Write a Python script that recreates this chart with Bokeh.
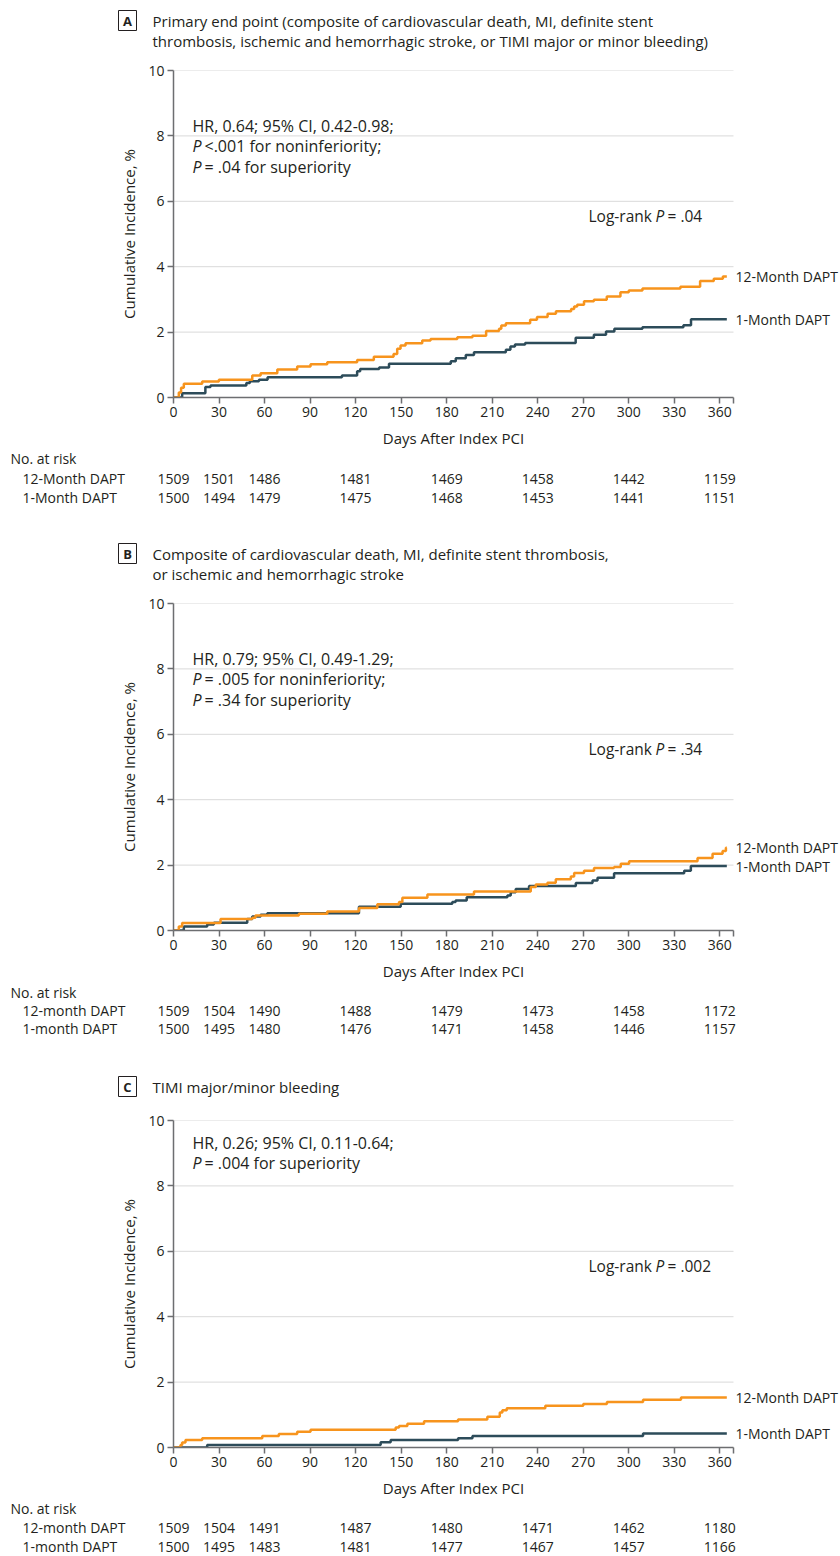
from bokeh.plotting import figure
from bokeh.models import Range1d, FixedTicker
from bokeh.layouts import column
from bokeh.embed import file_html
from bokeh.resources import INLINE
from bokeh.core.properties import value

# ---------------- data ----------------
RISK_DAYS = [0, 30, 60, 120, 180, 240, 300, 360]
X_TICKS = [0, 30, 60, 90, 120, 150, 180, 210, 240, 270, 300, 330, 360, 369]
Y_TICKS = [0, 2, 4, 6, 8, 10]

# Panel A
A12_days = [0, 3.5, 5, 6.8, 18.9, 29.9, 51.9, 57.4, 68.4, 81.5, 90.3, 101.3, 121, 132, 145, 147.4,
            149.6, 152.9, 163.9, 169.4, 187, 197, 206, 214.5, 216, 219, 235, 239.5, 246.5, 252,
            262, 264, 266, 270.5, 277, 285.5, 294.5, 300, 309, 334, 347, 356, 362, 364.6]
A12_vals = [0, 0.15, 0.30, 0.42, 0.49, 0.54, 0.67, 0.74, 0.86, 0.95, 1.02, 1.08, 1.15, 1.25, 1.33, 1.49,
            1.59, 1.66, 1.74, 1.79, 1.84, 1.89, 2.03, 2.10, 2.20, 2.27, 2.38, 2.46, 2.56, 2.64,
            2.71, 2.78, 2.84, 2.94, 2.99, 3.09, 3.22, 3.27, 3.33, 3.39, 3.56, 3.63, 3.70, 3.70]
A1_days = [0, 5.7, 21, 24.4, 48, 50.3, 56.3, 62, 111, 121, 123, 135.5, 142, 182.7, 186, 192.6, 198,
           219, 222, 225, 231.7, 265, 277, 285, 290.5, 309, 336, 341, 364.6]
A1_vals = [0, 0.13, 0.32, 0.37, 0.44, 0.50, 0.54, 0.62, 0.67, 0.80, 0.87, 0.92, 1.03, 1.11, 1.20, 1.30, 1.38,
           1.46, 1.56, 1.62, 1.67, 1.83, 1.92, 2.02, 2.10, 2.15, 2.21, 2.39, 2.39]
A12_risk = [1509, 1501, 1486, 1481, 1469, 1458, 1442, 1159]
A1_risk = [1500, 1494, 1479, 1475, 1468, 1453, 1441, 1151]

# Panel B
B12_days = [0, 3.5, 5.7, 31, 51.9, 54, 82.6, 101.3, 122.2, 134.3, 148.6, 150.8, 167.3, 198, 235.4,
            238.7, 246.4, 251.9, 261.8, 264, 270.5, 277.1, 290.3, 294.7, 300.2, 345.3, 355.2, 361.8, 364, 364.6]
B12_vals = [0, 0.12, 0.23, 0.35, 0.39, 0.46, 0.51, 0.58, 0.69, 0.80, 0.87, 1.00, 1.10, 1.19, 1.33,
            1.41, 1.46, 1.57, 1.65, 1.76, 1.83, 1.91, 1.94, 2.04, 2.12, 2.22, 2.35, 2.43, 2.53, 2.53]
B1_days = [0, 6.8, 22.2, 26.6, 48.6, 51.9, 57.4, 61.8, 122.2, 149.7, 183.7, 185.9, 193.2, 220, 222.2,
           225.5, 234.3, 265.1, 276.1, 279.4, 290.3, 336.5, 340.9, 364.6]
B1_vals = [0, 0.12, 0.18, 0.24, 0.35, 0.43, 0.48, 0.53, 0.73, 0.82, 0.87, 0.92, 1.02, 1.07, 1.17,
           1.27, 1.36, 1.45, 1.53, 1.61, 1.75, 1.83, 1.97, 1.97]
B12_risk = [1509, 1504, 1490, 1488, 1479, 1473, 1458, 1172]
B1_risk = [1500, 1495, 1480, 1476, 1471, 1458, 1446, 1157]

# Panel C
C12_days = [0, 4.6, 5.7, 7.9, 18.9, 58.5, 69.4, 81.5, 90.3, 146.4, 148.6, 154.1, 165.1, 187.5, 206.8,
            215, 216.7, 219.6, 245, 270, 285.6, 309.4, 334.4, 364.6]
C12_vals = [0, 0.08, 0.15, 0.23, 0.28, 0.35, 0.41, 0.48, 0.54, 0.61, 0.66, 0.73, 0.80, 0.86, 0.94,
            1.07, 1.14, 1.20, 1.28, 1.33, 1.39, 1.46, 1.53, 1.53]
C1_days = [0, 22.2, 136.5, 143.1, 187.5, 197, 309.4, 364.6]
C1_vals = [0, 0.08, 0.16, 0.23, 0.28, 0.35, 0.43, 0.43]
C12_risk = [1509, 1504, 1491, 1487, 1480, 1471, 1462, 1180]
C1_risk = [1500, 1495, 1483, 1481, 1477, 1467, 1457, 1166]

# ---------------- style ----------------
FONT = "Open Sans"
W = 840
FRAME_L = 173      # left edge of the data frame (px)
AXIS_W = 560       # px covered by the 0..XMAX axis
FRAME_H = 327
XMAX = 369
ORANGE = "#F7941D"
SLATE = "#2D4C5A"
TXT = "#231F20"
AXC = "#6D6E71"
GRID = "#D9D9D9"
X_LABEL = "Days After Index PCI"


def px2day(px):
    return (px - FRAME_L) / AXIS_W * XMAX


def base_fig(h, xr, yr):
    f = figure(width=W, height=h, x_range=xr, y_range=yr, toolbar_location=None,
               output_backend="svg", min_border=0, x_axis_location=None, y_axis_location=None,
               frame_align=False)
    f.outline_line_color = None
    for g in f.grid:
        g.visible = False
    return f


def header(h, letter, lines, y1):
    f = base_fig(h, Range1d(0, W), Range1d(h, 0))
    f.rect(x=[127], y=[y1], width=18, height=20, fill_color="white", line_color=TXT, line_width=1)
    f.text(x=[127], y=[y1], text=[letter], text_font=value(FONT), text_font_size="13px",
           text_font_style="bold", text_color=TXT, text_align="center", text_baseline="middle")
    ys = [y1 + 20 * i for i in range(len(lines))]
    f.text(x=[152] * len(lines), y=ys, text=lines, text_font=value(FONT), text_font_size="15px",
           text_color=TXT, text_align="left", text_baseline="middle")
    return f


def km(d12, v12, d1, v1, lab12, lab1, stats, pstats, logrank, stat_top):
    f = figure(width=W, height=367, x_range=Range1d(0, px2day(W)), y_range=Range1d(0, 10),
               toolbar_location=None, output_backend="svg", frame_align=False,
               min_border_left=FRAME_L, min_border_right=0, min_border_top=10, min_border_bottom=30)
    f.outline_line_color = None
    f.xgrid.visible = False
    f.ygrid.visible = False
    for ax in (f.xaxis[0], f.yaxis[0]):
        ax.axis_line_color = AXC
        ax.axis_line_width = 1.5
        ax.major_tick_line_color = AXC
        ax.major_tick_line_width = 1.5
        ax.major_tick_in = 0
        ax.major_tick_out = 6
        ax.minor_tick_line_color = None
        ax.major_label_text_font = FONT
        ax.major_label_text_font_size = "14px"
        ax.major_label_text_color = TXT
        ax.axis_label_text_font = FONT
        ax.axis_label_text_font_size = "15px"
        ax.axis_label_text_font_style = "normal"
        ax.axis_label_text_color = TXT
        ax.major_label_standoff = 3
    f.xaxis.ticker = FixedTicker(ticks=X_TICKS)
    f.xaxis.bounds = (0, XMAX)
    f.xaxis.major_label_overrides = {369: ""}
    f.yaxis.ticker = FixedTicker(ticks=Y_TICKS)
    f.yaxis.axis_label = "Cumulative Incidence, %"
    f.yaxis.axis_label_standoff = 6

    # horizontal grid lines, stopping at the end of the x axis
    gy = Y_TICKS[1:]
    f.segment(x0=[0] * len(gy), y0=gy, x1=[XMAX] * len(gy), y1=gy, line_color=GRID, line_width=1)

    f.step(d1, v1, mode="after", line_color=SLATE, line_width=2.5)
    f.step(d12, v12, mode="after", line_color=ORANGE, line_width=2.5)

    def ypx(p):
        return 10 - p * 10 / FRAME_H

    xs = px2day(FRAME_L + 19)
    yrow = [ypx(stat_top + 20.5 * i) for i in range(1 + len(pstats))]
    f.text(x=[xs], y=[yrow[0]], text=[stats], text_font=value(FONT), text_font_size="16px",
           text_color=TXT, text_baseline="middle")
    for i, t in enumerate(pstats):
        f.text(x=[xs], y=[yrow[i + 1]], text=["P"], text_font=value(FONT), text_font_size="16px",
               text_font_style="italic", text_color=TXT, text_baseline="middle")
        f.text(x=[xs], y=[yrow[i + 1]], x_offset=12, text=[t], text_font=value(FONT), text_font_size="16px",
               text_color=TXT, text_baseline="middle")
    xl = px2day(FRAME_L + 415)
    yl = ypx(145)
    f.text(x=[xl], y=[yl], text=["Log-rank"], text_font=value(FONT), text_font_size="15.5px",
           text_color=TXT, text_baseline="middle")
    f.text(x=[xl], y=[yl], x_offset=67, text=["P"], text_font=value(FONT), text_font_size="15.5px",
           text_font_style="italic", text_color=TXT, text_baseline="middle")
    f.text(x=[xl], y=[yl], x_offset=79, text=[logrank], text_font=value(FONT), text_font_size="15.5px",
           text_color=TXT, text_baseline="middle")

    f.text(x=[XMAX, XMAX], y=[v12[-1], v1[-1]], x_offset=2, text=[lab12, lab1], text_font=value(FONT),
           text_font_size="14px", text_color=TXT, text_baseline="middle", text_align="left")
    return f


def risk(h, lab12, lab1, n12, n1, rows):
    # rows: [x-axis label, "No. at risk", 12-month row, 1-month row] (px from top)
    f = base_fig(h, Range1d(px2day(0), px2day(W)), Range1d(h, 0))
    f.text(x=[XMAX / 2], y=[rows[0]], text=[X_LABEL], text_font=value(FONT), text_font_size="15px",
           text_color=TXT, text_baseline="middle", text_align="center")
    f.text(x=[px2day(10)], y=[rows[1]], text=["No. at risk"], text_font=value(FONT), text_font_size="14px",
           text_color=TXT, text_baseline="middle")
    f.text(x=[px2day(22)] * 2, y=rows[2:], text=[lab12, lab1], text_font=value(FONT),
           text_font_size="14px", text_color=TXT, text_baseline="middle")
    f.text(x=RISK_DAYS, y=[rows[2]] * len(RISK_DAYS), text=[str(n) for n in n12], text_font=value(FONT),
           text_font_size="14px", text_color=TXT, text_baseline="middle", text_align="center")
    f.text(x=RISK_DAYS, y=[rows[3]] * len(RISK_DAYS), text=[str(n) for n in n1], text_font=value(FONT),
           text_font_size="14px", text_color=TXT, text_baseline="middle", text_align="center")
    return f


hA = header(60, "A", ["Primary end point (composite of cardiovascular death, MI, definite stent",
                      "thrombosis, ischemic and hemorrhagic stroke, or TIMI major or minor bleeding)"], 20)
kA = km(A12_days, A12_vals, A1_days, A1_vals, "12-Month DAPT", "1-Month DAPT",
        "HR, 0.64; 95% CI, 0.42-0.98;",
        ["<.001 for noninferiority;", "= .04 for superiority"], "= .04", 55)
rA = risk(108, "12-Month DAPT", "1-Month DAPT", A12_risk, A1_risk, [10, 31, 51, 70])

hB = header(58, "B", ["Composite of cardiovascular death, MI, definite stent thrombosis,",
                      "or ischemic and hemorrhagic stroke"], 18)
kB = km(B12_days, B12_vals, B1_days, B1_vals, "12-Month DAPT", "1-Month DAPT",
        "HR, 0.79; 95% CI, 0.49-1.29;",
        ["= .005 for noninferiority;", "= .34 for superiority"], "= .34", 55)
rB = risk(100, "12-month DAPT", "1-month DAPT", B12_risk, B1_risk, [10, 32, 50, 68])

hC = header(50, "C", ["TIMI major/minor bleeding"], 26)
kC = km(C12_days, C12_vals, C1_days, C1_vals, "12-Month DAPT", "1-Month DAPT",
        "HR, 0.26; 95% CI, 0.11-0.64;",
        ["= .004 for superiority"], "= .002", 22)
rC = risk(79, "12-month DAPT", "1-month DAPT", C12_risk, C1_risk, [10, 31, 50, 69])

layout = column(hA, kA, rA, hB, kB, rB, hC, kC, rC, spacing=0)
open("out.html", "w").write(file_html(layout, INLINE))
